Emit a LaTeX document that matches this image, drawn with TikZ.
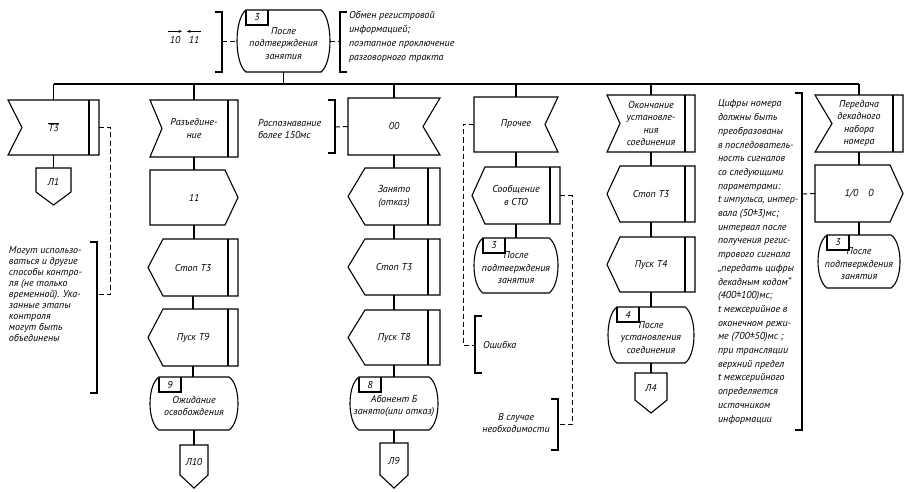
\documentclass[tikz,border=0pt]{standalone}
\usepackage{fontspec}
\setmainfont{PT Sans}
\usetikzlibrary{arrows.meta,calc}
\newcommand\sdlfont{\fontsize{10}{12.5}\selectfont\itshape}
\tikzset{
  sdl/.style={line width=1.1pt, line join=miter},
  txt/.style={font=\sdlfont, align=center, inner sep=0pt, outer sep=0pt},
  note/.style={txt, align=left, anchor=west},
  dashline/.style={line width=0.9pt, dash pattern=on 5pt off 3pt},
  link/.style={line width=1.1pt},
}
% generic invisible box node
\newcommand\boxnode[6]{\node[txt, minimum width={(#4-#2)*1pt}, minimum height={(#5-#3)*1pt}] (#1) at ({(#2+#4)/2},{(#3+#5)/2}) {#6};}
% input, notched left, bar on right
\newcommand\sdlInL[8]{\boxnode{#1}{#2}{#3}{#4}{#5}{#8}%
  \draw[sdl] (#2,#3) -- (#4,#3) -- (#4,#5) -- (#2,#5) -- ({#2+#6},{(#3+#5)/2}) -- cycle;%
  \draw[sdl] ({#4-#7},#3) -- ({#4-#7},#5);}
% notched right
\newcommand\sdlInR[7]{\boxnode{#1}{#2}{#3}{#4}{#5}{#7}%
  \draw[sdl] (#2,#3) -- (#4,#3) -- ({#4-#6},{(#3+#5)/2}) -- (#4,#5) -- (#2,#5) -- cycle;}
% pointed right
\newcommand\sdlOutR[7]{\boxnode{#1}{#2}{#3}{#4}{#5}{#7}%
  \draw[sdl] (#2,#3) -- ({#4-#6},#3) -- (#4,{(#3+#5)/2}) -- ({#4-#6},#5) -- (#2,#5) -- cycle;}
% pointed left, bar on right
\newcommand\sdlTaskL[8]{\boxnode{#1}{#2}{#3}{#4}{#5}{#8}%
  \draw[sdl] ({#2+#6},#3) -- (#4,#3) -- (#4,#5) -- ({#2+#6},#5) -- (#2,{(#3+#5)/2}) -- cycle;%
  \draw[sdl] ({#4-#7},#3) -- ({#4-#7},#5);}
% state with number box
\newcommand\sdlState[7]{\boxnode{#1}{#2}{#3}{#4}{#5}{}%
  \draw[sdl] ({#2+9},#3) -- ({#4-9},#3) .. controls ({#4+3},{#3+0.15*(#5-#3)}) and ({#4+3},{#5-0.15*(#5-#3)}) .. ({#4-9},#5) -- ({#2+9},#5) .. controls ({#2-3},{#5-0.15*(#5-#3)}) and ({#2-3},{#3+0.15*(#5-#3)}) .. cycle;%
  \draw[sdl] ({#2+9},#3) -- ({#2+9},{#3+15}) -- ({#2+31},{#3+15}) -- ({#2+31},#3);%
  \node[txt] at ({#2+20},{#3+7.5}) {#6};%
  \node[txt, yshift=-2.5pt] at (#1) {#7};}
% connector pentagon
\newcommand\sdlConn[6]{\boxnode{#1}{#2}{#3}{#4}{#5}{}%
  \draw[sdl] (#2,#3) -- (#4,#3) -- (#4,{#5-13}) -- ({(#2+#4)/2},#5) -- (#2,{#5-13}) -- cycle;%
  \node[txt, yshift=5pt] at (#1) {#6};}
% brackets
\newcommand\brkR[3]{\draw[sdl] ({#1-7},#2) -- (#1,#2) -- (#1,#3) -- ({#1-7},#3);}
\newcommand\brkL[3]{\draw[sdl] ({#1+7},#2) -- (#1,#2) -- (#1,#3) -- ({#1+7},#3);}
\begin{document}
\begin{tikzpicture}[x=1pt,y=-1pt]
\useasboundingbox (0,0) rectangle (907,492);
\fill[white] (0,0) rectangle (907,492);
% ---------- top ----------
\node[txt] (n10) at (175,40) {10};
\node[txt] (n11) at (194,40) {11};
\draw[link,-{Stealth[length=3.5pt,width=3pt]}] ($(n10.north)+(-7,-5)$) -- ($(n10.north)+(7,-5)$);
\draw[link,-{Stealth[length=3.5pt,width=3pt]}] ($(n11.north)+(7,-5)$) -- ($(n11.north)+(-7,-5)$);
\brkR{222}{12}{72}
\coordinate (bL) at (222,41);
\sdlState{st0}{237}{10}{330}{72}{3}{После\\подтверждения\\занятия}
\draw[dashline] (bL) -- (st0.west);
\brkL{340}{12}{72}
\coordinate (bR) at (340,41);
\draw[dashline] (st0.east) -- (bR);
\node[note, font=\fontsize{10}{14}\selectfont\itshape] (obm) at (349,37) {Обмен регистровой\\информацией;\\поэтапное проключение\\разговорного тракта};
% ---------- column 1 ----------
\sdlInL{t3}{8}{100}{99}{155}{14}{10}{$\overline{\mbox{T3}}$}
\sdlConn{l1}{36}{168}{71}{205}{Л1}
\brkR{97}{242}{393}
\coordinate (b1) at (97,294);
\draw[dashline] (t3.east) -- ++(11,0) |- (b1);
\node[note, font=\fontsize{10}{11}\selectfont\itshape] (m1) at (9,294) {Могут использо-\\ваться и другие\\способы контро-\\ля (не только\\временной). Ука-\\занные этапы\\контроля\\могут быть\\объединены};
% ---------- column 2 ----------
\sdlInL{raz}{150}{100}{238}{157}{12}{10}{Разъедине-\\ние}
\sdlOutR{o11}{150}{170}{238}{225}{13}{11}
\sdlTaskL{st3a}{148}{239}{238}{296}{15}{10}{Стоп T3}
\sdlTaskL{p9}{148}{309}{238}{366}{15}{10}{Пуск T9}
\sdlState{s9}{150}{377}{238}{430}{9}{Ожидание\\освобождения}
\sdlConn{l10}{180}{445}{208}{488}{Л10}
% ---------- column 3 ----------
\node[note] (rasp) at (258,129) {Распознавание\\более 150мс};
\brkR{335}{100}{153}
\coordinate (b3) at (335,127);
\sdlInR{oo}{348}{98}{440}{155}{17}{00}
\draw[dashline] (b3) -- (oo.west);
\sdlTaskL{zan}{348}{168}{440}{225}{17}{12}{Занято\\(отказ)}
\sdlTaskL{st3b}{348}{239}{440}{295}{17}{12}{Стоп T3}
\sdlTaskL{p8}{348}{310}{440}{365}{17}{12}{Пуск T8}
\sdlState{s8}{350}{377}{438}{430}{8}{Абонент Б\\занято(или отказ)}
\sdlConn{l9}{380}{443}{408}{488}{Л9}
% ---------- column 4 ----------
\sdlInR{pro}{474}{97}{558}{152}{13}{Прочее}
\sdlTaskL{soo}{472}{167}{560}{224}{13}{10}{Сообщение\\в СТО}
\sdlState{s3b}{474}{238}{558}{293}{3}{После\\подтверждения\\занятия}
\brkL{475}{316}{373}
\coordinate (b4a) at (475,345);
\draw[dashline] (pro.west) -- ++(-11,0) |- (b4a);
\node[note] (osh) at (483,345) {Ошибка};
\brkR{558}{399}{450}
\coordinate (b4b) at (558,424);
\draw[dashline] (soo.east) -- ++(12,0) |- (b4b);
\node[txt, font=\fontsize{10}{12}\selectfont\itshape] (vsl) at (516,423) {В случае\\необходимости};
% ---------- column 5 ----------
\sdlInL{oko}{607}{95}{695}{152}{13}{10}{Окончание\\установле-\\ния\\соединения}
\sdlTaskL{st3c}{607}{166}{695}{222}{13}{10}{Стоп T3}
\sdlTaskL{p4}{607}{237}{695}{292}{13}{10}{Пуск T4}
\sdlState{s4}{608}{307}{694}{363}{4}{После\\установления\\соединения}
\sdlConn{l4}{635}{373}{667}{413}{Л4}
% ---------- column 6 ----------
\sdlInL{pd}{815}{95}{903}{152}{17}{10}{Передача\\декадного\\набора\\номера}
\sdlOutR{o10}{815}{165}{903}{222}{13}{1/0\quad 0}
\sdlState{s3c}{818}{235}{900}{288}{3}{После\\подтверждения\\занятия}
\brkR{802}{93}{430}
\coordinate (b6) at (802,194);
\draw[dashline] (o10.west) -- (b6);
\node[note, font=\fontsize{10}{13.7}\selectfont\itshape] (cif) at (718,262) {Цифры номера\\должны быть\\преобразованы\\в последователь-\\ность сигналов\\со следующими\\параметрами:\\t импульса, интер-\\вала (50±3)мс;\\интервал после\\получения регис-\\трового сигнала\\„передать цифры\\декадным кодом“\\(400±100)мс;\\t межсерийное в\\оконечном режи-\\ме (700±50)мс ;\\при трансляции\\верхний предел\\t межсерийного\\определяется\\источником\\информации};
% ---------- bus and links ----------
\coordinate (busy) at (0,84);
\draw[link] (st0.south) -- (st0.south |- busy);
\draw[link] (t3.north |- busy) -- (pd.north |- busy);
\foreach \n in {t3,raz,oo,pro,oko,pd} {\draw[link] (\n.north |- busy) -- (\n.north);}
\foreach \a/\b in {t3/l1,raz/o11,o11/st3a,st3a/p9,p9/s9,s9/l10,oo/zan,zan/st3b,st3b/p8,p8/s8,s8/l9,pro/soo,soo/s3b,oko/st3c,st3c/p4,p4/s4,s4/l4,pd/o10,o10/s3c} {\draw[link] (\a.south) -- (\a.south |- \b.north);}
\end{tikzpicture}
\end{document}
